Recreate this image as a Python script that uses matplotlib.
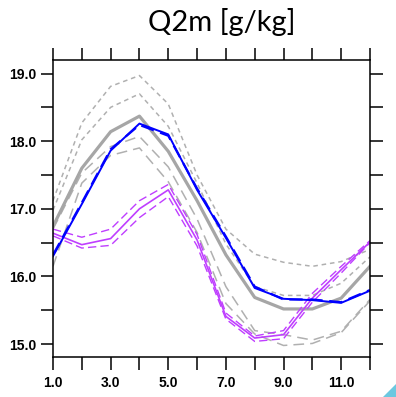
import numpy as np
import matplotlib
matplotlib.use('Agg')
import matplotlib.pyplot as plt
from matplotlib.patches import Polygon

# months
months = np.arange(1, 13)

# observation (thick gray)
obs = [16.74, 17.60, 18.14, 18.37, 17.85, 17.12, 16.32, 15.69, 15.52, 15.52, 15.68, 16.15]

# gray dotted (short dash) lines
dot1 = [17.12, 18.27, 18.81, 18.97, 18.55, 17.50, 16.70, 16.33, 16.21, 16.15, 16.22, 16.40]
dot2 = [16.98, 18.02, 18.50, 18.70, 18.22, 17.38, 16.48, 15.85, 15.72, 15.72, 15.90, 16.29]

# gray long dashed lines
ldash1 = [16.70, 17.53, 17.92, 18.07, 17.62, 16.85, 15.85, 15.20, 15.14, 15.06, 15.19, 15.66]
ldash2 = [16.15, 17.38, 17.79, 17.90, 17.40, 16.65, 15.60, 15.15, 14.98, 15.01, 15.17, 15.64]

# blue model
blue = [16.30, 17.07, 17.86, 18.26, 18.10, 17.28, 16.57, 15.83, 15.67, 15.65, 15.61, 15.79]
blue_d = [16.32, 17.09, 17.88, 18.24, 18.08, 17.30, 16.59, 15.85, 15.66, 15.66, 15.62, 15.80]

# magenta model
mag = [16.64, 16.47, 16.56, 17.00, 17.28, 16.54, 15.41, 15.09, 15.14, 15.68, 16.10, 16.51]
mag_up = [16.70, 16.58, 16.70, 17.12, 17.36, 16.62, 15.46, 15.12, 15.20, 15.75, 16.15, 16.53]
mag_lo = [16.60, 16.42, 16.46, 16.87, 17.18, 16.45, 15.37, 15.04, 15.08, 15.62, 16.05, 16.50]

xticks = [1.0, 3.0, 5.0, 7.0, 9.0, 11.0]
yticks = [15.0, 16.0, 17.0, 18.0, 19.0]

fig = plt.figure(figsize=(3.96, 3.97), dpi=100)
ax = fig.add_axes([0.1338, 0.1008, 0.8005, 0.7481])

gray_t = '#a6a6a6'
gray_d = '#b0b0b0'
purple = '#bf3eff'

ax.plot(months, dot1, color=gray_d, lw=1.1, dashes=(3, 2.5))
ax.plot(months, dot2, color=gray_d, lw=1.1, dashes=(3, 2.5))
ax.plot(months, ldash1, color=gray_d, lw=1.1, dashes=(7, 4))
ax.plot(months, ldash2, color=gray_d, lw=1.1, dashes=(7, 4))
ax.plot(months, obs, color=gray_t, lw=2.3)

ax.plot(months, mag_up, color=purple, lw=1.0, dashes=(6, 3))
ax.plot(months, mag_lo, color=purple, lw=1.0, dashes=(6, 3))
ax.plot(months, mag, color=purple, lw=1.2)

ax.plot(months, blue, color='#0000ff', lw=1.4)
ax.plot(months, blue_d, color='#0000ff', lw=1.6, dashes=(6, 3))

ax.set_xlim(1, 12)
ax.set_ylim(14.81, 19.2)
ax.set_xticks(np.arange(1, 13))
ax.set_xticklabels(['%.1f' % v if v in xticks else '' for v in np.arange(1, 13)])
ax.set_yticks(np.arange(15.0, 19.01, 0.5))
ax.set_yticklabels(['%.1f' % v if v in yticks else '' for v in np.arange(15.0, 19.01, 0.5)])

ax.tick_params(direction='out', length=9, width=1.1, top=True, right=True,
               labelsize=10, color='black')
ax.tick_params(axis='y', pad=3)
ax.tick_params(axis='x', pad=5)
for lab in ax.get_xticklabels() + ax.get_yticklabels():
    lab.set_fontweight('bold')
    lab.set_family('Liberation Sans')
for s in ax.spines.values():
    s.set_linewidth(1.1)

fig.text(0.56, 0.945, 'Q2m [g/kg]', ha='center', va='center', fontsize=21, family='Lato')

# corner decoration
fig.patches.append(Polygon([[0.968, 0.0], [1.0, 0.0], [1.0, 0.033]], closed=True,
                           transform=fig.transFigure, color='#6cc8e0', lw=0))

fig.savefig('out.png', dpi=100)
